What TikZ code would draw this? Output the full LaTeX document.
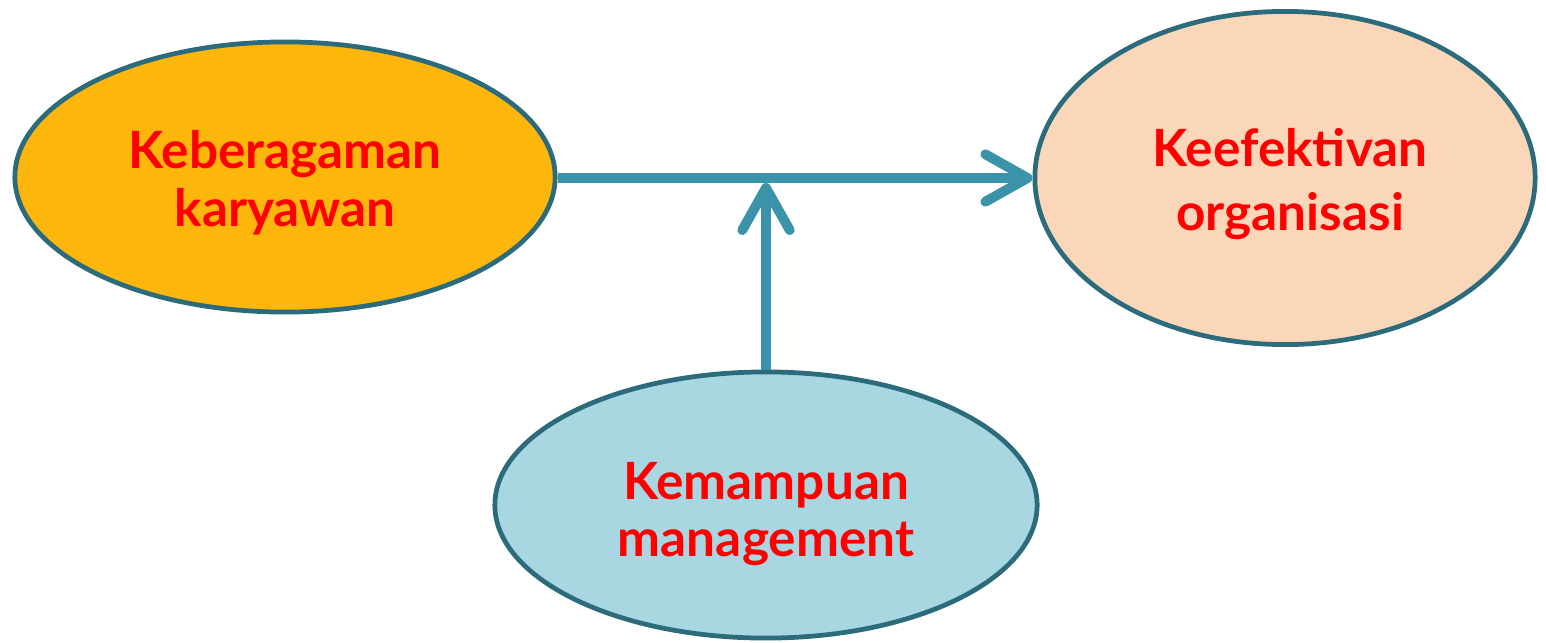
\documentclass[tikz,border=0pt]{standalone}
\usepackage{fontspec}
\setmainfont{Lato}
\usetikzlibrary{shapes.geometric,arrows.meta}
\definecolor{rimteal}{HTML}{2B6B7B}
\definecolor{flowteal}{HTML}{3A93A8}
\definecolor{gold}{HTML}{FDB60B}
\definecolor{peach}{HTML}{FAD7B9}
\definecolor{skyblue}{HTML}{A8D7E2}
\definecolor{labelred}{HTML}{FF0000}
\begin{document}
\begin{tikzpicture}[x=0.01cm,y=-0.01cm,
  factor/.style={ellipse,draw=rimteal,line width=1.35pt,inner sep=0pt},
  caption/.style={text=labelred,font=\bfseries\fontsize{14.6}{16.4}\selectfont,
    align=center,inner sep=0pt},
  flow/.style={draw=flowteal,line width=2.8pt,
    -{Straight Barb[length=12pt,width=13.5pt,round]}}]
  \useasboundingbox (0,0) rectangle (1546,642);
  % the three factors
  \node[factor,fill=gold,minimum width=5.4cm,minimum height=2.7cm] (div) at (285,177) {};
  \node[factor,fill=peach,minimum width=5.0cm,minimum height=3.33cm] (eff) at (1285,178) {};
  \node[factor,fill=skyblue,minimum width=5.42cm,minimum height=2.66cm] (mgt) at (766,505) {};
  \node[caption] (divtext) at (285,183) {Keberagaman\\karyawan};
  \node[caption,font=\bfseries\fontsize{14.6}{18}\selectfont] (efftext) at (1290,184) {Keefektivan\\organisasi};
  \node[caption] (mgttext) at (766,514) {Kemampuan\\management};
  % influence arrows
  \coordinate (meet) at (766,183);
  \draw[flow] (div.east |- 0,178) -- (eff.west |- 0,178);
  \draw[flow] (mgt.north) -- (meet);
\end{tikzpicture}
\end{document}
